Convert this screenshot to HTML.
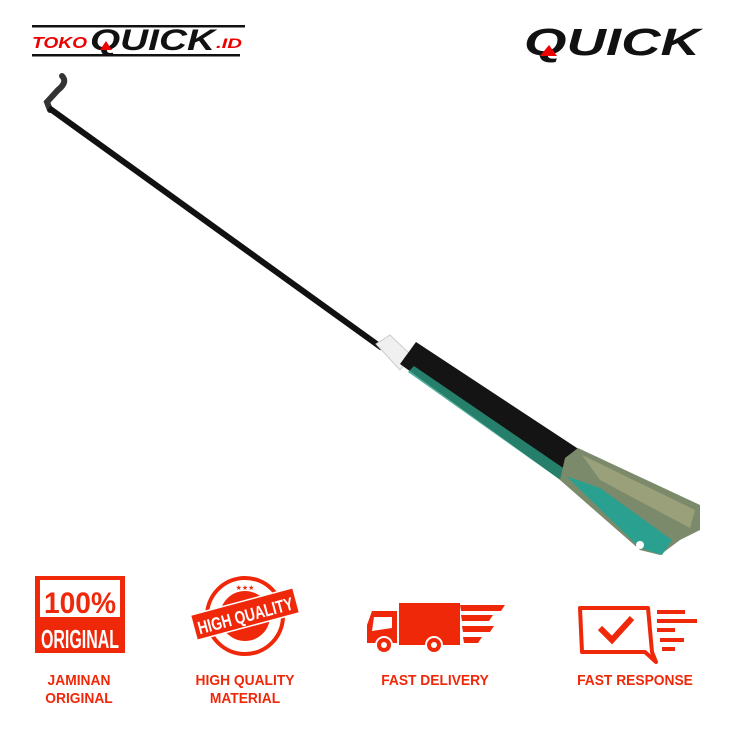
<!DOCTYPE html>
<html><head><meta charset="utf-8"><style>
html,body{margin:0;padding:0;background:#fff;}
body{width:733px;height:733px;position:relative;overflow:hidden;font-family:"Liberation Sans",sans-serif;}
.lbl{position:absolute;color:#f0280a;font-weight:bold;font-size:15px;text-align:center;line-height:18px;transform:scaleX(0.92);}
</style></head><body>
<svg width="733" height="733" style="position:absolute;left:0;top:0">
<!-- logo left -->
<rect x="32" y="25" width="213" height="2.5" fill="#111"/>
<rect x="32" y="54" width="208" height="2.5" fill="#111"/>
<text x="32" y="48" font-family="Liberation Sans" font-weight="bold" font-style="italic" font-size="16" fill="#e00" textLength="55" lengthAdjust="spacingAndGlyphs">TOKO</text>
<text x="90" y="50" font-family="Liberation Sans" font-weight="bold" font-style="italic" font-size="30" fill="#111" textLength="125" lengthAdjust="spacingAndGlyphs">QUICK</text>
<text x="216" y="48" font-family="Liberation Sans" font-weight="bold" font-style="italic" font-size="14" fill="#e00" textLength="26" lengthAdjust="spacingAndGlyphs">.ID</text>
<polygon points="100,50 106,41 112,50" fill="#e00"/>
<!-- logo right -->
<text x="524" y="55" font-family="Liberation Sans" font-weight="bold" font-style="italic" font-size="38" fill="#111" textLength="176" lengthAdjust="spacingAndGlyphs">QUICK</text>
<polygon points="540,56 549,45 557,56" fill="#e00"/>
<!-- rod -->
<path d="M62,76 Q68,82 58,90 L47,102 L50,110" stroke="#333" stroke-width="6" fill="none" stroke-linecap="round"/>
<line x1="49" y1="108" x2="382" y2="348" stroke="#111" stroke-width="6"/>
<polygon points="376,344 390,335 412,356 400,370" fill="#f0f0f0" stroke="#ccc" stroke-width="1"/>
<polygon points="400,364 416,342 580,450 566,484" fill="#141414"/>
<polygon points="408,372 566,484 572,474 414,366" fill="#2a9a80" opacity="0.8"/>
<polygon points="565,458 578,448 700,505 700,530 680,540 660,555 640,550 560,480" fill="#7a8a6a"/>
<polygon points="566,476 640,548 662,555 672,540 600,488" fill="#2aa090"/>
<polygon points="582,455 695,510 690,528 600,480" fill="#9aa07a"/>
<circle cx="640" cy="545" r="4" fill="#fff"/>
<!-- 100% original -->
<rect x="35" y="576" width="90" height="77" fill="#f0280a"/>
<rect x="40" y="580" width="80" height="37" fill="#fff"/>
<text x="80" y="613" text-anchor="middle" font-family="Liberation Sans" font-weight="bold" font-size="30" fill="#f0280a" textLength="72" lengthAdjust="spacingAndGlyphs">100%</text>
<text x="80" y="648" text-anchor="middle" font-family="Liberation Sans" font-weight="bold" font-size="26" fill="#fff" textLength="78" lengthAdjust="spacingAndGlyphs">ORIGINAL</text>
<!-- high quality badge -->
<circle cx="245" cy="616" r="38" fill="none" stroke="#f0280a" stroke-width="4"/>
<circle cx="245" cy="616" r="25" fill="#f0280a"/>
<g transform="rotate(-15 245 614)"><rect x="192" y="601" width="106" height="26" fill="#f0280a" stroke="#fff" stroke-width="1.5"/>
<text x="245" y="622" text-anchor="middle" font-family="Liberation Sans" font-weight="bold" font-size="18" fill="#fff" textLength="98" lengthAdjust="spacingAndGlyphs">HIGH QUALITY</text></g>
<text x="245" y="590" text-anchor="middle" font-size="7" fill="#f0280a">★★★</text>
<!-- truck -->
<rect x="399" y="603" width="61" height="42" fill="#f0280a"/>
<path d="M367,643 L367,625 L372,611 L397,611 L397,643 Z" fill="#f0280a"/>
<path d="M372,631 L374,617 L392,617 L392,628 Z" fill="#fff"/>
<circle cx="384" cy="645" r="8" fill="#f0280a" stroke="#fff" stroke-width="2"/><circle cx="384" cy="645" r="3" fill="#fff"/>
<circle cx="434" cy="645" r="8" fill="#f0280a" stroke="#fff" stroke-width="2"/><circle cx="434" cy="645" r="3" fill="#fff"/>
<polygon points="460,605 505,605 501,611 461,611" fill="#f0280a"/>
<polygon points="461,615 493,615 489,621 462,621" fill="#f0280a"/>
<polygon points="462,626 494,626 490,632 463,632" fill="#f0280a"/>
<polygon points="463,637 482,637 478,643 464,643" fill="#f0280a"/>
<!-- response -->
<path d="M580,608 L648,608 L652,652 L656,662 L645,652 L582,652 Z" fill="none" stroke="#f0280a" stroke-width="4" stroke-linejoin="round"/>
<path d="M600,628 L612,640 L632,618" fill="none" stroke="#f0280a" stroke-width="6"/>
<rect x="657" y="610" width="28" height="4" fill="#f0280a"/>
<rect x="657" y="619" width="40" height="4" fill="#f0280a"/>
<rect x="657" y="628" width="18" height="4" fill="#f0280a"/>
<rect x="660" y="638" width="24" height="4" fill="#f0280a"/>
<rect x="662" y="647" width="13" height="4" fill="#f0280a"/>
</svg>
<div class="lbl" style="left:20px;top:672px;width:118px">JAMINAN<br>ORIGINAL</div>
<div class="lbl" style="left:170px;top:672px;width:150px">HIGH QUALITY<br>MATERIAL</div>
<div class="lbl" style="left:360px;top:672px;width:150px">FAST DELIVERY</div>
<div class="lbl" style="left:560px;top:672px;width:150px">FAST RESPONSE</div>
</body></html>
